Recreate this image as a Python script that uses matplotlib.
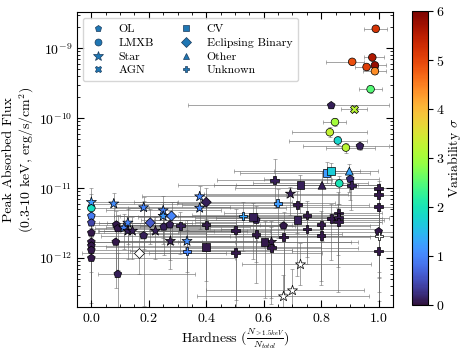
import numpy as np
import matplotlib
matplotlib.use("Agg")
import matplotlib.pyplot as plt
from matplotlib.lines import Line2D
from matplotlib.ticker import MultipleLocator

plt.rcParams['font.family'] = 'serif'
plt.rcParams['font.serif'] = ['cmr10', 'DejaVu Serif']
plt.rcParams['mathtext.fontset'] = 'cm'
plt.rcParams['axes.formatter.use_mathtext'] = True
plt.rcParams['font.size'] = 10

# hardness, peak flux, x error (low/high), flux error in dex (low/high), variability sigma, type
hardness = [0.99, 0.978, 0.908, 0.958, 0.987, 0.987, 0.972, 0.835, 0.914, 0.848, 0.83, 0.858, 0.886, 0.935,
            0.819, 0.835, 0.898, 0.901, 0.863, 0.905, 0.803, 0.728, 0.693, 1.0, 1.0, 0.638, 0.649, 0.717,
            0.40, 0.528, 0.563, 0.574, 0.717, 0.751, 0.751, 0.835, 0.86, 0.86, 0.86, 0.80, 0.80, 0.669,
            0.669, 0.574, 0.502, 0.502, 0.603, 0.627, 0.627, 0.40, 0.40, 1.0, 1.0, 1.0,
            0.725, 0.70, 0.668, 0.167, 1.0,
            0.0, 0.0, 0.0, 0.0, 0.0, 0.0, 0.0, 0.0, 0.0,
            0.092, 0.078, 0.087, 0.092, 0.085, 0.127, 0.113, 0.127, 0.143, 0.182, 0.182, 0.205, 0.223,
            0.25, 0.25, 0.279, 0.252, 0.273, 0.275, 0.31, 0.333, 0.333, 0.377, 0.377]
flux = [1.9e-9, 7.4e-10, 6.4e-10, 5.4e-10, 5.7e-10, 4.7e-10, 2.6e-10, 1.52e-10, 1.36e-10, 8.8e-11, 6.3e-11, 4.8e-11, 3.8e-11, 4.0e-11,
        1.65e-11, 1.75e-11, 1.75e-11, 1.35e-11, 1.17e-11, 1.1e-11, 1.1e-11, 1.1e-11, 8.3e-12, 1.0e-11, 8.1e-12, 1.3e-11, 6.1e-12, 5.8e-12,
        6.3e-12, 4.0e-12, 3.85e-12, 3.5e-12, 3.5e-12, 4.1e-12, 2.6e-12, 3.7e-12, 4.4e-12, 3.8e-12, 3.3e-12, 3.0e-12, 2.1e-12, 2.9e-12,
        2.0e-12, 2.2e-12, 2.5e-12, 1.2e-12, 1.7e-12, 1.7e-12, 1.4e-12, 1.45e-12, 3.0e-12, 5.4e-12, 2.4e-12, 1.26e-12,
        8.3e-13, 3.5e-13, 2.9e-13, 1.2e-12, 2.1e-12,
        6.3e-12, 5.2e-12, 4.0e-12, 3.2e-12, 2.3e-12, 1.7e-12, 1.5e-12, 1.3e-12, 1.0e-12,
        5.9e-13, 6.0e-12, 3.0e-12, 2.65e-12, 1.7e-12, 3.2e-12, 2.7e-12, 2.45e-12, 2.45e-12, 2.1e-12, 5.3e-12, 3.2e-12, 2.45e-12,
        4.8e-12, 4.0e-12, 4.0e-12, 2.8e-12, 3.0e-12, 1.75e-12, 2.9e-12, 1.75e-12, 1.25e-12, 7.6e-12, 5.2e-12]
hard_lo = [0.04, 0.03, 0.09, 0.04, 0.04, 0.04, 0.04, 0.5, 0.045, 0.04, 0.13, 0.17, 0.07, 0.2,
           0.3, 0.2, 0.4, 0.3, 0.3, 0.4, 0.5, 0.3, 0.3, 0.5, 0.6, 0.2, 0.35, 0.4,
           0.25, 0.4, 0.4, 0.4, 0.5, 0.4, 0.3, 0.4, 0.4, 0.5, 0.5, 0.5, 0.4, 0.5,
           0.5, 0.4, 0.3, 0.3, 0.3, 0.3, 0.3, 0.35, 0.3, 0.6, 0.7, 0.3,
           0.2, 0.3, 0.3, 0.2, 0.5,
           0.0, 0.0, 0.0, 0.0, 0.0, 0.0, 0.0, 0.0, 0.0,
           0.07, 0.08, 0.09, 0.09, 0.085, 0.1, 0.1, 0.1, 0.1, 0.15, 0.1, 0.15, 0.2,
           0.2, 0.15, 0.2, 0.2, 0.2, 0.2, 0.2, 0.25, 0.2, 0.2, 0.25]
hard_hi = [0.04, 0.04, 0.04, 0.04, 0.04, 0.04, 0.04, 0.2, 0.045, 0.04, 0.13, 0.1, 0.1, 0.1,
           0.15, 0.1, 0.1, 0.1, 0.1, 0.1, 0.2, 0.2, 0.2, 0.05, 0.05, 0.2, 0.2, 0.25,
           0.3, 0.3, 0.3, 0.3, 0.3, 0.25, 0.25, 0.2, 0.15, 0.15, 0.15, 0.2, 0.2, 0.3,
           0.3, 0.3, 0.3, 0.3, 0.3, 0.3, 0.3, 0.4, 0.3, 0.05, 0.05, 0.05,
           0.25, 0.25, 0.3, 0.3, 0.05,
           0.3, 0.2, 0.3, 0.35, 0.4, 0.5, 0.6, 0.7, 0.5,
           0.27, 0.3, 0.5, 0.4, 0.3, 0.2, 0.3, 0.3, 0.4, 0.3, 0.3, 0.3, 0.4,
           0.2, 0.3, 0.3, 0.3, 0.3, 0.3, 0.4, 0.3, 0.3, 0.3, 0.3]
dex_lo = [0.05, 0.05, 0.04, 0.04, 0.04, 0.04, 0.05, 0.03, 0.05, 0.06, 0.07, 0.07, 0.07, 0.05,
          0.15, 0.2, 0.3, 0.3, 0.3, 0.35, 0.8, 0.4, 0.3, 1.2, 1.2, 0.4, 0.5, 0.4,
          0.6, 0.5, 0.6, 0.6, 0.8, 0.6, 0.5, 0.6, 0.6, 0.7, 1.0, 0.8, 0.7, 1.0,
          0.8, 0.7, 1.0, 0.8, 0.8, 0.8, 0.8, 1.0, 0.8, 1.0, 1.0, 0.8,
          0.3, 0.3, 0.3, 0.3, 0.8,
          0.5, 0.5, 0.6, 0.7, 1.0, 1.2, 1.2, 1.0, 1.0,
          0.5, 0.3, 0.9, 0.6, 0.5, 0.3, 0.3, 0.4, 0.4, 1.0, 0.6, 0.3, 0.4,
          0.4, 0.4, 0.4, 0.4, 0.5, 0.4, 0.4, 1.0, 0.3, 0.2, 0.3]
dex_hi = [0.05, 0.05, 0.04, 0.04, 0.04, 0.04, 0.05, 0.03, 0.05, 0.06, 0.07, 0.07, 0.07, 0.05,
          0.15, 0.12, 0.1, 0.1, 0.1, 0.1, 0.2, 0.15, 0.1, 0.1, 0.1, 0.3, 0.2, 0.2,
          0.2, 0.2, 0.2, 0.2, 0.2, 0.2, 0.2, 0.2, 0.3, 0.2, 0.2, 0.2, 0.2, 0.2,
          0.2, 0.3, 0.3, 0.3, 0.3, 0.3, 0.3, 0.4, 0.3, 0.2, 0.3, 0.3,
          0.3, 0.3, 0.3, 0.3, 0.2,
          0.2, 0.2, 0.2, 0.2, 0.2, 0.2, 0.2, 0.2, 0.2,
          0.3, 0.15, 0.2, 0.2, 0.3, 0.2, 0.2, 0.2, 0.2, 0.5, 0.15, 0.2, 0.2,
          0.2, 0.2, 0.2, 0.2, 0.2, 0.3, 0.2, 0.3, 0.3, 0.15, 0.2]
variability = [5.2, 5.6, 4.9, 5.1, 5.8, 4.4, 2.5, 0.1, 3.2, 3.0, 3.3, 1.8, 3.2, 0.1,
               1.2, 1.7, 1.3, 0.2, 2.0, 0.1, 0.1, 0.1, 0.1, 0.05, 0.05, 0.1, 1.2, 0.05,
               0.1, 1.3, 0.1, 0.1, 0.1, 0.05, 0.05, 0.05, 0.05, 0.05, 0.05, 0.05, 0.05, 0.05,
               0.05, 0.05, 0.05, 0.05, 0.05, 0.05, 0.05, 0.05, 0.05, 0.05, 0.05, 0.05,
               np.nan, np.nan, np.nan, np.nan, np.nan,
               1.2, 1.9, 0.9, 0.4, 0.05, 0.05, 0.05, 0.05, 0.05,
               0.1, 1.1, 0.05, 0.05, 0.05, 1.0, 1.0, 0.1, 0.1, 0.1, 1.0, 0.6, 0.1,
               1.0, 1.2, 1.0, 0.1, 0.1, 0.1, 0.1, 1.1, 1.0, 1.0, 1.0]
src_type = ['LMXB', 'LMXB', 'LMXB', 'LMXB', 'LMXB', 'LMXB', 'LMXB', 'OL', 'AGN', 'LMXB', 'LMXB', 'LMXB', 'LMXB', 'OL',
            'CV', 'CV', 'Other', 'OL', 'LMXB', 'Unknown', 'Other', 'CV', 'Star', 'Unknown', 'Unknown', 'Unknown', 'Unknown', 'Unknown',
            'Eclipsing Binary', 'Unknown', 'CV', 'OL', 'CV', 'Unknown', 'Unknown', 'Unknown', 'Unknown', 'Unknown', 'Unknown', 'Unknown', 'Unknown', 'OL',
            'Unknown', 'Unknown', 'Unknown', 'Unknown', 'CV', 'Star', 'Unknown', 'CV', 'Unknown', 'Unknown', 'OL', 'Unknown',
            'Star', 'Star', 'Star', 'Eclipsing Binary', 'Unknown',
            'Star', 'LMXB', 'OL', 'OL', 'OL', 'OL', 'OL', 'OL', 'OL',
            'OL', 'Star', 'OL', 'OL', 'OL', 'Star', 'Star', 'Star', 'Star', 'OL', 'Star', 'Eclipsing Binary', 'Star',
            'Star', 'Star', 'Eclipsing Binary', 'OL', 'OL', 'Star', 'Unknown', 'Star', 'Unknown', 'Star', 'Star']

type_order = ['OL', 'LMXB', 'Star', 'AGN', 'CV', 'Eclipsing Binary', 'Other', 'Unknown']
markers = {'OL': 'p', 'LMXB': 'o', 'Star': '*', 'AGN': 'X', 'CV': 's',
           'Eclipsing Binary': 'D', 'Other': '^', 'Unknown': 'P'}
sizes = {'OL': 34, 'LMXB': 30, 'Star': 58, 'AGN': 34, 'CV': 30,
         'Eclipsing Binary': 26, 'Other': 32, 'Unknown': 36}

x = np.array(hardness)
y = np.array(flux)
sig = np.array(variability)
types = np.array(src_type)
yerr = [y - y * 10 ** (-np.array(dex_lo)), y * 10 ** np.array(dex_hi) - y]

fig = plt.figure(figsize=(4.63, 3.55), dpi=100)
ax = fig.add_axes([77 / 463, 48 / 355, 316 / 463, 295 / 355])
cax = fig.add_axes([412 / 463, 50 / 355, 16 / 463, 294 / 355])

ax.errorbar(x, y, xerr=[hard_lo, hard_hi], yerr=yerr, fmt='none', ecolor='0.4',
            elinewidth=0.7, capsize=1.5, capthick=0.6, alpha=0.6, zorder=1)

for t in type_order:
    m = types == t
    ok = m & ~np.isnan(sig)
    sc = ax.scatter(x[ok], y[ok], c=sig[ok], cmap='turbo', vmin=0, vmax=6,
                    marker=markers[t], s=sizes[t], edgecolors='k', linewidths=0.5, zorder=3)
    bad = m & np.isnan(sig)
    if bad.any():
        ax.scatter(x[bad], y[bad], facecolors='white', marker=markers[t], s=sizes[t],
                   edgecolors='k', linewidths=0.5, zorder=3)

ax.set_yscale('log')
ax.set_xlim(-0.05, 1.05)
ax.set_ylim(2e-13, 3.3e-9)
ax.xaxis.set_major_locator(MultipleLocator(0.2))
ax.xaxis.set_minor_locator(MultipleLocator(0.05))
ax.tick_params(which='both', direction='in', top=True, right=True)
ax.tick_params(which='major', length=5)
ax.tick_params(which='minor', length=2.5)

ax.set_xlabel(r'Hardness ($\frac{N_{>1.5keV}}{N_{total}}$)', labelpad=1)
ax.set_ylabel('Peak Absorbed Flux\n(0.3-10 keV, erg/s/cm$^2$)', labelpad=2)

handles = [Line2D([], [], ls='none', marker=markers[t], color='#1f77b4', markeredgecolor='#1a3a5a',
                  markeredgewidth=0.5, markersize=7 if t == 'Star' else 5, label=t) for t in type_order]
ax.legend(handles=handles, ncol=2, loc='upper left', fontsize=8.5, columnspacing=2.0,
          handletextpad=1.0, labelspacing=0.3, borderpad=0.5, handlelength=1.5)

cb = fig.colorbar(sc, cax=cax)
cb.set_label(r'Variability $\sigma$', labelpad=1)
cb.set_ticks([0, 1, 2, 3, 4, 5, 6])
cax.tick_params(pad=2)

fig.savefig('out.png', dpi=100)
